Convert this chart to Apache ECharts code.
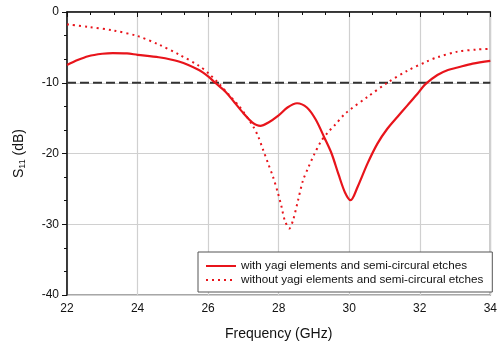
<!DOCTYPE html>
<html>
<head>
<meta charset="utf-8">
<script src="https://cdn.jsdelivr.net/npm/echarts@6/dist/echarts.min.js"></script>
<style>
  html, body { margin: 0; padding: 0; background: #fff; }
  #main { width: 500px; height: 347px; }
</style>
</head>
<body>
<div id="main"></div>
<script>
// frequency (GHz) / S11 (dB)
var withFreq = [22.0, 22.3, 22.6, 23.0, 23.3, 23.7, 24.0, 24.6, 25.17, 25.74, 26.0, 26.2, 26.5, 26.75, 27.0, 27.25, 27.48, 27.7, 28.0, 28.25, 28.52, 28.8, 29.05, 29.3, 29.5, 29.7, 29.88, 30.04, 30.24, 30.52, 30.8, 31.08, 31.37, 31.65, 31.93, 32.16, 32.5, 32.8, 33.07, 33.5, 34.0];
var withS11  = [-7.5, -6.8, -6.25, -5.9, -5.8, -5.85, -6.05, -6.4, -7.0, -8.2, -9.1, -10.0, -11.3, -12.8, -14.3, -15.6, -16.1, -15.65, -14.6, -13.5, -12.9, -13.5, -15.2, -17.8, -20.0, -23.0, -25.5, -26.6, -24.7, -21.4, -18.6, -16.5, -14.8, -13.2, -11.6, -10.2, -8.9, -8.2, -7.85, -7.3, -6.9];

var withoutFreq = [22.0, 22.6, 23.3, 24.0, 24.6, 25.17, 25.74, 26.02, 26.3, 26.59, 26.86, 27.0, 27.28, 27.42, 27.56, 27.7, 27.84, 27.98, 28.08, 28.17, 28.3, 28.41, 28.55, 28.69, 28.83, 29.0, 29.2, 29.4, 29.59, 29.9, 30.52, 31.08, 31.65, 32.2, 32.5, 33.07, 33.63, 34.0];
var withoutS11  = [-1.75, -2.1, -2.6, -3.4, -4.6, -6.0, -7.6, -8.7, -10.1, -11.7, -13.2, -14.1, -16.2, -17.6, -19.5, -21.4, -23.3, -25.6, -27.5, -29.4, -30.6, -29.4, -26.6, -23.8, -22.1, -20.2, -18.3, -17.0, -16.0, -14.3, -12.0, -10.0, -8.3, -7.0, -6.4, -5.6, -5.3, -5.2];

var refFreq = [22, 34];
var refS11 = [-10, -10];

var seriesNames = ['with yagi elements and semi-circural etches', 'without yagi elements and semi-circural etches'];

function pairs(xs, ys) {
  return xs.map(function (x, i) { return [x, ys[i]]; });
}

var chart = echarts.init(document.getElementById('main'), null, {renderer: 'canvas'});

var option = {
  backgroundColor: '#fff',
  animation: false,
  textStyle: {fontFamily: 'Liberation Sans, Arial, sans-serif'},
  grid: {
    left: 67,
    right: 7,
    top: 12,
    bottom: 52,
    show: true,
    borderColor: '#8a8a8a',
    borderWidth: 1.5,
    backgroundColor: 'transparent'
  },
  legend: {
    orient: 'vertical',
    left: 198,
    top: 252,
    itemWidth: 30,
    itemHeight: 10,
    itemGap: 2,
    padding: [8, 9, 6, 7],
    backgroundColor: '#fff',
    borderColor: '#555',
    borderWidth: 1,
    itemStyle: {opacity: 0},
    textStyle: {fontSize: 11.7, color: '#111', fontFamily: 'Liberation Sans, Arial, sans-serif'},
    data: seriesNames
  },
  xAxis: {
    type: 'value',
    min: 22,
    max: 34,
    interval: 2,
    name: 'Frequency (GHz)',
    nameLocation: 'middle',
    nameGap: 32,
    nameTextStyle: {fontSize: 14, color: '#111'},
    axisLine: {lineStyle: {color: '#111', width: 1.5}},
    axisTick: {length: 5, lineStyle: {color: '#111'}},
    minorTick: {show: true, splitNumber: 3, length: 3, lineStyle: {color: '#111'}},
    axisLabel: {fontSize: 12, color: '#111', margin: 8},
    splitLine: {show: true, lineStyle: {color: '#d0d0d0', width: 1.2}}
  },
  yAxis: {
    type: 'value',
    min: -40,
    max: 0,
    interval: 10,
    name: '{s|S}{sub|11}{s| (dB)}',
    nameLocation: 'middle',
    nameRotate: 90,
    nameGap: 40,
    nameTextStyle: {
      rich: {
        s: {fontSize: 14, color: '#111', fontFamily: 'Liberation Sans, Arial, sans-serif'},
        sub: {fontSize: 9, color: '#111', verticalAlign: 'bottom', padding: [6, 0, 0, 0], fontFamily: 'Liberation Sans, Arial, sans-serif'}
      }
    },
    axisLine: {onZero: false, lineStyle: {color: '#111', width: 1.5}},
    axisTick: {length: 5, lineStyle: {color: '#111'}},
    minorTick: {show: true, splitNumber: 3, length: 3, lineStyle: {color: '#111'}},
    axisLabel: {fontSize: 12, color: '#111', margin: 8},
    splitLine: {show: true, lineStyle: {color: '#d0d0d0', width: 1.2}}
  },
  series: [
    {
      name: 'ref',
      type: 'line',
      data: pairs(refFreq, refS11),
      symbol: 'none',
      silent: true,
      lineStyle: {color: '#333', width: 1.8, type: [9, 4]},
      z: 3
    },
    {
      name: seriesNames[0],
      type: 'line',
      data: pairs(withFreq, withS11),
      smooth: 0.3,
      symbol: 'none',
      color: '#e8141b',
      lineStyle: {color: '#e8141b', width: 2.2},
      z: 4
    },
    {
      name: seriesNames[1],
      type: 'line',
      data: pairs(withoutFreq, withoutS11),
      smooth: 0.3,
      symbol: 'none',
      color: '#e8141b',
      lineStyle: {color: '#e8141b', width: 2, type: [2, 4]},
      z: 4
    }
  ]
};

chart.setOption(option);
</script>
</body>
</html>
